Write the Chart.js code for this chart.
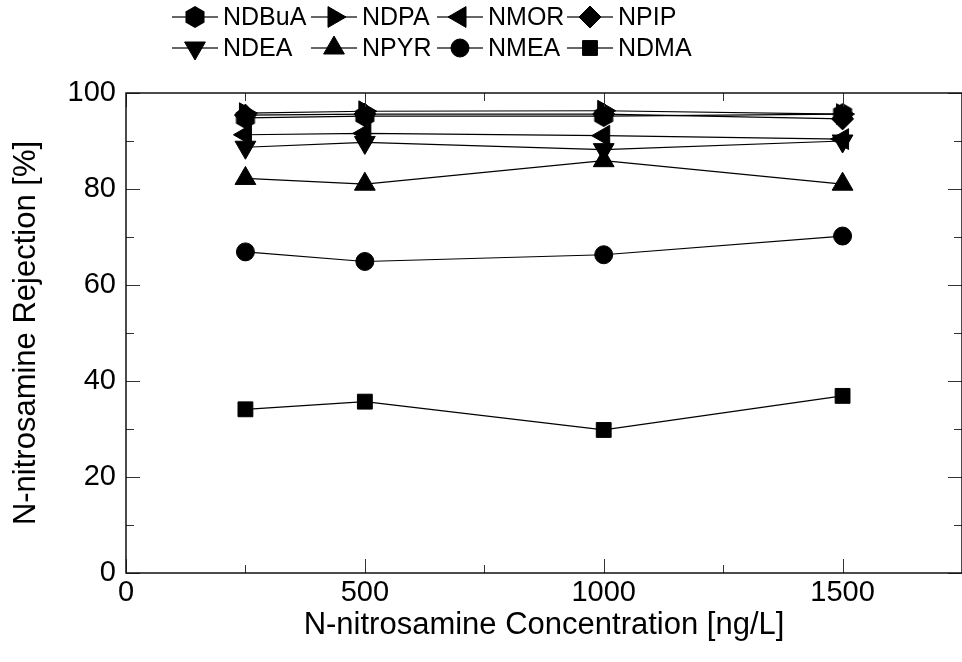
<!DOCTYPE html>
<html>
<head>
<meta charset="utf-8">
<script src="https://cdn.jsdelivr.net/npm/chart.js@4.4.1/dist/chart.umd.min.js"></script>
<style>
  html, body { margin:0; padding:0; background:#fff; }
  #wrap { width:962px; height:662px; overflow:hidden; }
</style>
</head>
<body>
<div id="wrap"><canvas id="chart" width="962" height="662"></canvas></div>
<script>
// concentrations [ng/L]
const concentrations = [250, 500, 1000, 1500];

// rejection [%] per nitrosamine
const ndbua = [94.8, 95.2, 95.2, 95.6];
const ndpa  = [95.8, 96.2, 96.3, 95.6];
const nmor  = [91.3, 91.6, 91.1, 90.4];
const npip  = [95.4, 95.6, 95.6, 94.6];
const ndea  = [88.7, 89.7, 88.2, 90.0];
const npyr  = [82.2, 81.0, 85.9, 81.0];
const nmea  = [66.9, 64.9, 66.3, 70.2];
const ndma  = [34.1, 35.7, 29.8, 36.9];

const seriesNames = ['NDBuA', 'NDPA', 'NMOR', 'NPIP', 'NDEA', 'NPYR', 'NMEA', 'NDMA'];
const seriesValues = [ndbua, ndpa, nmor, npip, ndea, npyr, nmea, ndma];

// ticks
const xTickValues = [0, 500, 1000, 1500];
const xMinorValues = [250, 750, 1250];
const yTickValues = [0, 20, 40, 60, 80, 100];
const yMinorValues = [10, 30, 50, 70, 90];

const FONT = "'Liberation Sans', Arial, sans-serif";

// hexagon marker, not built into chart.js
function makeHexagon(r) {
  const c = document.createElement('canvas');
  const w = Math.ceil(2 * r * Math.sin(Math.PI / 3)) + 2, h = Math.ceil(2 * r) + 2;
  c.width = w; c.height = h;
  const g = c.getContext('2d');
  g.fillStyle = '#000';
  g.beginPath();
  for (let i = 0; i < 6; i++) {
    const a = Math.PI / 3 * i;
    const px = w / 2 + r * Math.sin(a), py = h / 2 - r * Math.cos(a);
    if (i) g.lineTo(px, py); else g.moveTo(px, py);
  }
  g.closePath();
  g.fill();
  return c;
}

const markers = [
  { style: makeHexagon(11), rot: 0, r: 11 },
  { style: 'triangle', rot: 90, r: 12 },
  { style: 'triangle', rot: -90, r: 12 },
  { style: 'rectRot', rot: 0, r: 11 },
  { style: 'triangle', rot: 180, r: 12 },
  { style: 'triangle', rot: 0, r: 12 },
  { style: 'circle', rot: 0, r: 9 },
  { style: 'rect', rot: 0, r: 10.5 }
];

const datasets = seriesNames.map((name, i) => ({
  label: name,
  data: concentrations.map((c, j) => ({ x: c, y: seriesValues[i][j] })),
  order: -i, // later series on top
  borderColor: '#000',
  backgroundColor: '#000',
  borderWidth: 1.2,
  pointStyle: markers[i].style,
  pointRotation: markers[i].rot,
  pointRadius: markers[i].r,
  pointBorderWidth: 1,
  pointBorderColor: '#000',
  pointBackgroundColor: '#000'
}));

// legend: two rows of four, line with marker then name
const legendCols = [172, 311, 437, 567];
const legendRows = [17, 48];
const legendPlugin = {
  id: 'lineLegend',
  afterDraw(chart) {
    const ctx = chart.ctx;
    ctx.save();
    ctx.font = '25px ' + FONT;
    ctx.textBaseline = 'middle';
    ctx.textAlign = 'left';
    seriesNames.forEach((name, i) => {
      const x0 = legendCols[i % 4], y0 = legendRows[Math.floor(i / 4)];
      ctx.strokeStyle = '#333';
      ctx.lineWidth = 1.5;
      ctx.beginPath();
      ctx.moveTo(x0, y0);
      ctx.lineTo(x0 + 46, y0);
      ctx.stroke();
      ctx.fillStyle = '#000';
      ctx.strokeStyle = '#000';
      ctx.lineWidth = 1;
      Chart.helpers.drawPoint(ctx, {
        pointStyle: markers[i].style, rotation: markers[i].rot,
        radius: markers[i].r, borderWidth: 1
      }, x0 + 23, y0);
      ctx.fillText(name, x0 + 51, y0 + 1);
    });
    ctx.restore();
  }
};

// box frame with inward ticks on all four sides
const framePlugin = {
  id: 'frameTicks',
  afterDraw(chart) {
    const { ctx, chartArea: a, scales: { x, y } } = chart;
    const seg = (x1, y1, x2, y2) => { ctx.beginPath(); ctx.moveTo(x1, y1); ctx.lineTo(x2, y2); ctx.stroke(); };
    ctx.save();
    ctx.strokeStyle = '#333';
    ctx.lineWidth = 1;
    const xt = (v, len) => { const p = Math.round(x.getPixelForValue(v)) + 0.5; seg(p, a.bottom, p, a.bottom - len); seg(p, a.top, p, a.top + len); };
    const yt = (v, len) => { const p = Math.round(y.getPixelForValue(v)) + 0.5; seg(a.left, p, a.left + len, p); seg(a.right, p, a.right - len, p); };
    xTickValues.forEach(v => xt(v, 14));
    xMinorValues.forEach(v => xt(v, 8));
    yTickValues.forEach(v => yt(v, 14));
    yMinorValues.forEach(v => yt(v, 8));
    ctx.strokeStyle = '#111';
    ctx.lineWidth = 1.5;
    ctx.strokeRect(a.left, a.top, a.right - a.left, a.bottom - a.top);
    ctx.restore();
  }
};

new Chart(document.getElementById('chart').getContext('2d'), {
  type: 'line',
  data: { datasets },
  options: {
    responsive: false,
    animation: false,
    devicePixelRatio: 1,
    layout: { autoPadding: false, padding: { top: 93, right: -2, bottom: 0, left: 0 } },
    plugins: { legend: { display: false }, tooltip: { enabled: false } },
    scales: {
      x: {
        type: 'linear', min: 0, max: 1750,
        afterBuildTicks: s => { s.ticks = xTickValues.map(v => ({ value: v })); },
        afterFit: s => { s.height = 89; s.paddingLeft = 0; s.paddingRight = 0; },
        grid: { display: false, drawTicks: false },
        border: { display: false },
        ticks: { color: '#000', font: { family: FONT, size: 29 }, padding: 3, maxRotation: 0,
                 callback: v => String(v) },
        title: { display: true, text: 'N-nitrosamine Concentration [ng/L]', color: '#000',
                 font: { family: FONT, size: 31 }, padding: { top: 0, bottom: 18 } }
      },
      y: {
        min: 0, max: 100,
        afterBuildTicks: s => { s.ticks = yTickValues.map(v => ({ value: v })); },
        afterFit: s => { s.width = 126; s.paddingTop = 0; s.paddingBottom = 0; },
        grid: { display: false, drawTicks: false },
        border: { display: false },
        ticks: { color: '#000', font: { family: FONT, size: 29 }, padding: 10,
                 callback: v => String(v) },
        title: { display: true, text: 'N-nitrosamine Rejection [%]', color: '#000',
                 font: { family: FONT, size: 31 }, padding: { top: 8, bottom: 0 } }
      }
    }
  },
  plugins: [framePlugin, legendPlugin]
});
</script>
</body>
</html>
